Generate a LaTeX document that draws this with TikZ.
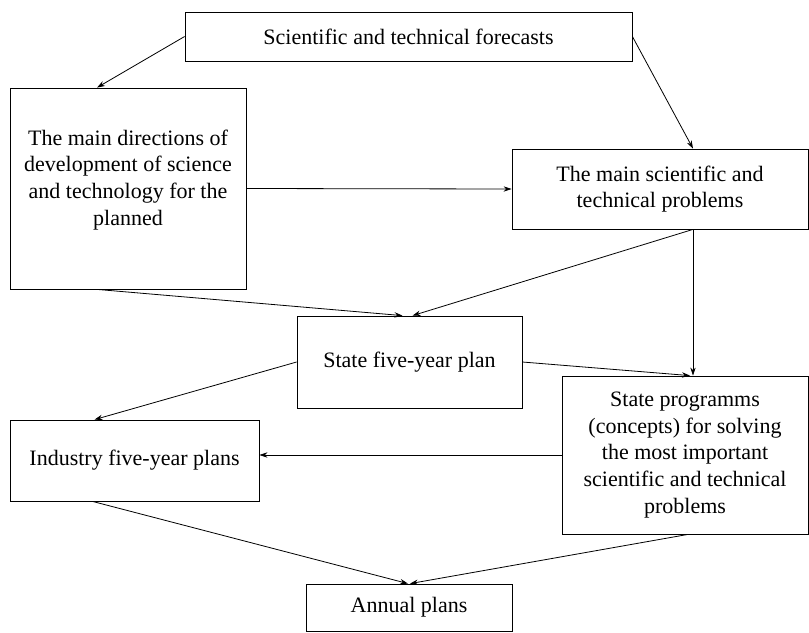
\documentclass[tikz,border=0pt]{standalone}
\usepackage{fontspec}
\setmainfont{Liberation Serif}
\usetikzlibrary{arrows.meta,calc}

\tikzset{
  box/.style={draw, semithick, align=center, inner sep=0pt,
    font=\fontsize{16.5}{20}\selectfont},
  link/.style={-{Stealth[length=6pt,width=4pt]}, semithick}
}

\begin{document}
\begin{tikzpicture}[x=0.75pt,y=-0.75pt]
\useasboundingbox (0,0) rectangle (809,632);

% Boxes
\node[box, minimum width=335.25pt, minimum height=36.75pt] (fc) at (408.5,36.5)
    {Scientific and technical forecasts};
\node[box, minimum width=177pt, minimum height=150.75pt] (dir) at (128,188.5)
    {The main directions of\\development of science\\and technology for the\\planned\\[-3.5pt]};
\node[box, minimum width=222pt, minimum height=60pt] (prob) at (660,189)
    {The main scientific and\\technical problems};
\node[box, minimum width=168.75pt, minimum height=69pt] (five) at (409.5,362)
    {State five-year plan};
\node[box, minimum width=186.75pt, minimum height=60.75pt] (ind) at (134.5,460.5)
    {Industry five-year plans};
\node[box, minimum width=184.5pt, minimum height=118.5pt] (prog) at (685,455)
    {State programms\\(concepts) for solving\\the most important\\scientific and technical\\problems};
\node[box, minimum width=154.5pt, minimum height=35.25pt] (ann) at (409,607.5)
    {Annual plans};

% Arrows from the forecasts
\draw[link] (fc.west) -- ($(dir.north)+(-31,0)$);
\draw[link] (fc.east) -- ($(prob.north)+(33,0)$);
\draw[link] (dir.east) -- (prob.west);

% Arrows into the five-year plan and the programms
\coordinate (pb) at ($(prob.south)+(33,0)$);
\draw[link] ($(dir.south)+(-31,0)$) -- ($(five.north)+(-7,0)$);
\draw[link] (pb) -- ($(five.north)+(3,0)$);
\draw[link] (pb) -- (pb |- prog.north);
\draw[link] (five.east) -- ($(prog.north)+(5,0)$);

% Arrows down to the plans
\draw[link] (five.west) -- ($(ind.north)+(-40,0)$);
\draw[link] (prog.west) -- (prog.west -| ind.east);
\draw[link] ($(ind.south)+(-42,0)$) -- ($(ann.north)+(-1,0)$);
\draw[link] ($(prog.south)+(3,0)$) -- ($(ann.north)+(1,0)$);

\end{tikzpicture}
\end{document}
